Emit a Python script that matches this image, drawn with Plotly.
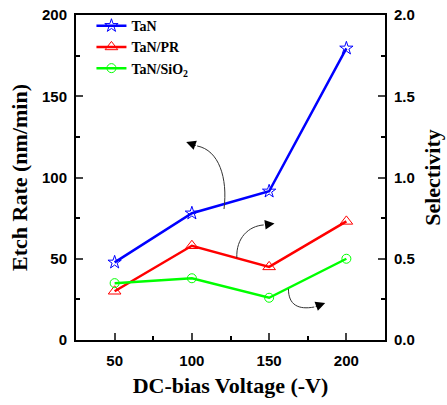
import plotly.graph_objects as go

voltage = [50, 100, 150, 200]
tan_rate = [47.8, 78.0, 91.5, 179.5]
sel_pr = [0.30, 0.58, 0.45, 0.73]
sel_sio2 = [0.35, 0.38, 0.26, 0.50]

x_ticks = [50, 100, 150, 200]
y1_ticks = [0, 50, 100, 150, 200]
y2_ticks = [0.0, 0.5, 1.0, 1.5, 2.0]

# curved guide arrows (data coords of left axis): start, c1, c2, end, tip
arrows = [
    [(120.8, 80.6), (123.3, 99.7), (117.5, 116.9), (103.4, 119.4), (96.3, 121.8)],
    [(129.1, 50.5), (128.5, 62.8), (136.8, 70.2), (146.5, 70.8), (153.5, 71.7)],
    [(162.5, 31.4), (162.5, 21.5), (169.0, 18.5), (179.2, 20.3), (186.3, 22.8)],
]

tick_font = dict(family="Liberation Sans, Arial", size=15, color="black", weight="bold")
title_font = dict(family="Liberation Serif, Times New Roman", size=22, color="black", weight="bold")

fig = go.Figure()
fig.add_trace(go.Scatter(x=voltage, y=tan_rate, name="TaN", mode="lines+markers",
                         line=dict(color="#0000FF", width=2.5),
                         marker=dict(symbol="star-open", size=10, color="#0000FF", line=dict(width=1))))
fig.add_trace(go.Scatter(x=voltage, y=sel_pr, name="TaN/PR", mode="lines+markers", yaxis="y2",
                         line=dict(color="#FF0000", width=2.5),
                         marker=dict(symbol="triangle-up-open", size=11, color="#FF0000", line=dict(width=1))))
fig.add_trace(go.Scatter(x=voltage, y=sel_sio2, name="TaN/SiO<sub>2</sub>", mode="lines+markers", yaxis="y2",
                         line=dict(color="#00FF00", width=2.5),
                         marker=dict(symbol="circle-open", size=9, color="#00FF00", line=dict(width=1))))

shapes = []
annotations = []
for s, c1, c2, e, t in arrows:
    shapes.append(dict(type="path", xref="x", yref="y",
                       path=f"M {s[0]},{s[1]} C {c1[0]},{c1[1]} {c2[0]},{c2[1]} {e[0]},{e[1]}",
                       line=dict(color="#333333", width=1)))
    annotations.append(dict(x=t[0], y=t[1], ax=e[0], ay=e[1], xref="x", yref="y", axref="x", ayref="y",
                            showarrow=True, arrowhead=2, arrowsize=1.6, arrowwidth=1.2,
                            arrowcolor="black", text=""))

fig.update_layout(
    width=447, height=405,
    margin=dict(l=76, r=62, t=15, b=65, autoexpand=False),
    paper_bgcolor="white", plot_bgcolor="white",
    showlegend=True,
    legend=dict(x=0.05, y=1.015, xanchor="left", yanchor="top", bgcolor="rgba(0,0,0,0)",
                font=dict(family="Liberation Serif, Times New Roman", size=14, color="black", weight="bold"),
                tracegroupgap=0, itemwidth=30),
    xaxis=dict(range=[25, 225], tickvals=x_ticks, ticks="inside", ticklen=7, tickwidth=2, automargin=False,
               showline=True, linewidth=2, linecolor="black", mirror=True, showgrid=False, zeroline=False,
               minor=dict(dtick=25, tick0=25, ticks="inside", ticklen=4, tickwidth=2, tickcolor="black"),
               tickfont=tick_font, ticklabelstandoff=6,
               title=dict(text="DC-bias Voltage (-V)", font=title_font, standoff=10)),
    yaxis=dict(range=[0, 200], tickvals=y1_ticks, ticks="inside", ticklen=7, tickwidth=2, automargin=False,
               showline=True, linewidth=2, linecolor="black", showgrid=False, zeroline=False,
               minor=dict(dtick=25, ticks="inside", ticklen=4, tickwidth=2, tickcolor="black"),
               tickfont=tick_font, ticklabelstandoff=4,
               title=dict(text="Etch Rate (nm/min)", font=title_font, standoff=8)),
    yaxis2=dict(range=[0, 2], tickvals=y2_ticks, tickformat=".1f", overlaying="y", side="right",
                ticks="inside", ticklen=7, tickwidth=2, automargin=False,
                showline=True, linewidth=2, linecolor="black", showgrid=False, zeroline=False,
                minor=dict(dtick=0.25, ticks="inside", ticklen=4, tickwidth=2, tickcolor="black"),
                tickfont=tick_font, ticklabelstandoff=4,
                title=dict(text="Selectivity", font=title_font, standoff=11)),
    shapes=shapes, annotations=annotations,
)

fig.write_html("out.html")
